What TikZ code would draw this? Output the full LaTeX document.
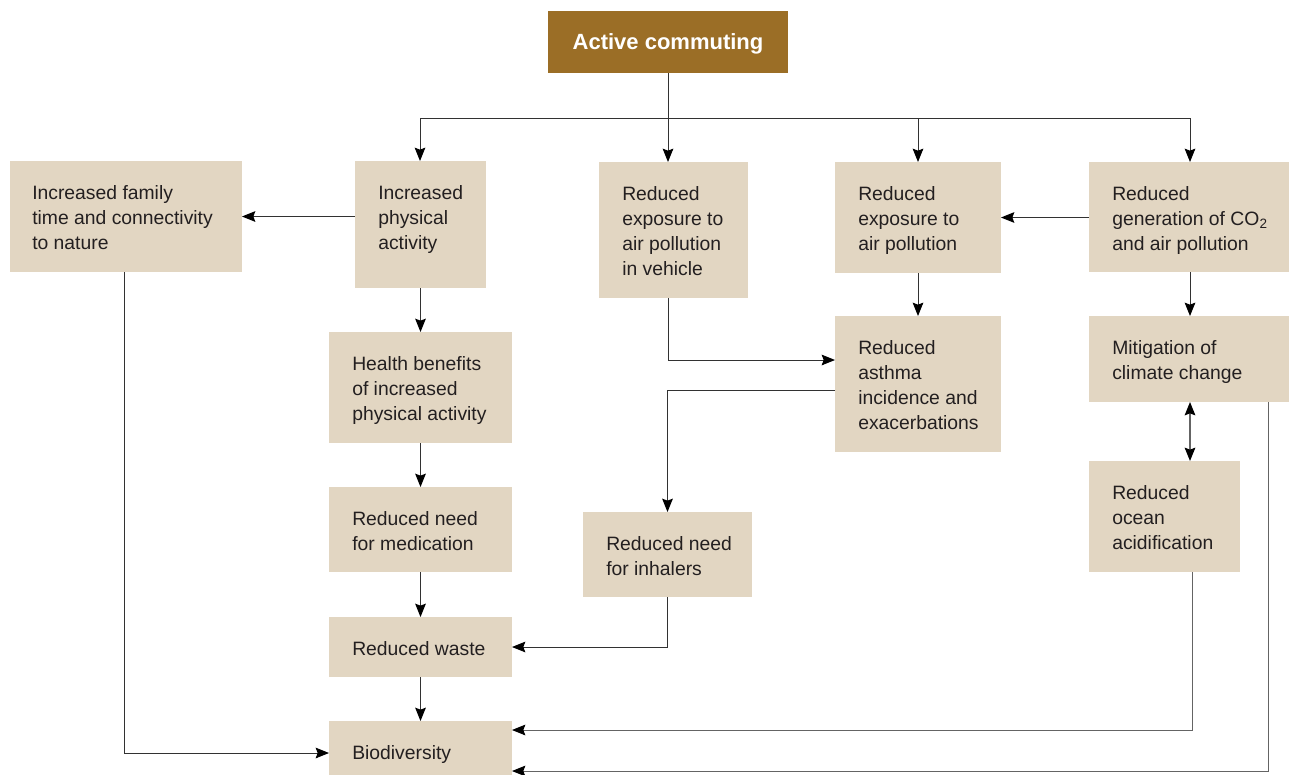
\documentclass[tikz,border=0pt]{standalone}
\usepackage{fontspec}
\setmainfont{Liberation Sans}
\usetikzlibrary{arrows.meta,fit,calc}
\definecolor{boxc}{RGB}{226,214,194}
\definecolor{brownc}{RGB}{155,110,38}
\definecolor{txtc}{RGB}{35,31,32}
\definecolor{linec}{RGB}{50,50,50}
\definecolor{greyc}{RGB}{100,100,100}
\begin{document}
\begin{tikzpicture}[x=0.75pt,y=-0.75pt,
  box/.style={fill=boxc, draw=none, inner sep=0pt, outer sep=0pt, rectangle},
  topbox/.style={fill=brownc, draw=none, inner sep=0pt, outer sep=0pt, rectangle},
  txt/.style={anchor=north west, inner sep=0pt, align=left, text=txtc,
    font=\fontsize{14.5}{18.75}\selectfont},
  tip/.style={Stealth[length=10pt,width=8pt,inset=1.5pt,fill=black,draw=black]},
  line/.style={line width=0.75pt, draw=linec},
  arr/.style={line, -{Stealth[length=10pt,width=8pt,inset=1.5pt,color=black]}},
  garr/.style={line width=0.75pt, draw=greyc, -{Stealth[length=10pt,width=8pt,inset=1.5pt,color=black]}},
  darr/.style={line width=1pt, draw=greyc, {Stealth[length=10pt,width=8pt,inset=1.5pt,color=black]}-{Stealth[length=10pt,width=8pt,inset=1.5pt,color=black]}}
]
\useasboundingbox (0,0) rectangle (1290,775);

% boxes
\node[topbox, fit={(548,11) (788,73)}] (ac) {};
\node[anchor=center, inner sep=0pt, text=white, font=\fontsize{16.5}{20}\selectfont\bfseries] (act) at ($(ac.center)+(0,2)$) {Active commuting};

\node[box, fit={(10,161) (242,272)}] (fam) {};
\node[box, fit={(355,161) (486,288)}] (ipa) {};
\node[box, fit={(599,162) (748,298)}] (veh) {};
\node[box, fit={(835,162) (1001,273)}] (exp) {};
\node[box, fit={(1089,162) (1289,272)}] (co2) {};
\node[box, fit={(329,332) (512,443)}] (hb) {};
\node[box, fit={(835,316) (1001,452)}] (ast) {};
\node[box, fit={(1089,316) (1289,402)}] (mit) {};
\node[box, fit={(329,487) (512,572)}] (med) {};
\node[box, fit={(583,512) (752,597)}] (inh) {};
\node[box, fit={(1089,461) (1240,572)}] (oce) {};
\node[box, fit={(329,617) (512,677)}] (was) {};
\node[box, fit={(329,721) (512,775)}] (bio) {};

% texts
\node[txt] (famt) at ($(fam.north west)+(22,24)$) {Increased family\\time and connectivity\\to nature};
\node[txt] (ipat) at ($(ipa.north west)+(23,24)$) {Increased\\physical\\activity};
\node[txt] (veht) at ($(veh.north west)+(23,24)$) {Reduced\\exposure to\\air pollution\\in vehicle};
\node[txt] (expt) at ($(exp.north west)+(23,24)$) {Reduced\\exposure to\\air pollution};
\node[txt] (co2t) at ($(co2.north west)+(23,24)$) {Reduced\\generation of CO\textsubscript{2}\\and air pollution};
\node[txt] (hbt) at ($(hb.north west)+(23,24)$) {Health benefits\\of increased\\physical activity};
\node[txt] (astt) at ($(ast.north west)+(23,24)$) {Reduced\\asthma\\incidence and\\exacerbations};
\node[txt] (mitt) at ($(mit.north west)+(23,24)$) {Mitigation of\\climate change};
\node[txt] (medt) at ($(med.north west)+(23,24)$) {Reduced need\\for medication};
\node[txt] (inht) at ($(inh.north west)+(23,24)$) {Reduced need\\for inhalers};
\node[txt] (ocet) at ($(oce.north west)+(23,24)$) {Reduced\\ocean\\acidification};
\node[txt] (wast) at ($(was.north west)+(23,24)$) {Reduced waste};
\node[txt] (biot) at ($(bio.north west)+(23,24)$) {Biodiversity};

% helper coordinates
\coordinate (bL) at (420,118);
\coordinate (bR) at (1190,118);
\coordinate (v1) at (668,360);
\coordinate (a1) at (835,390);
\coordinate (o1) at (1192,572);
\coordinate (m1) at (1268,402);
\coordinate (f1) at (124,272);
\coordinate (b1) at (512,730);
\coordinate (b2) at (512,771);
\coordinate (b3) at (329,753);

% connectors
\draw[line] (ac.south) -- (ac.south |- bL);
\draw[line] (bL) -- (bR);
\draw[arr] (bL) -- (bL |- ipa.north);
\draw[arr] (ac.south |- bL) -- (ac.south |- veh.north);
\draw[arr] (exp.north |- bL) -- (exp.north);
\draw[arr] (bR) -- (bR |- co2.north);

\draw[arr] (fam.east -| ipa.west) -- (fam.east);
\draw[arr] (ipa.south) -- (hb.north);
\draw[arr] (hb.south) -- (med.north);
\draw[arr] (med.south) -- (was.north);
\draw[arr] (was.south) -- (bio.north);

\draw[arr] (ac.south |- veh.south) -- (v1) -- (v1 -| ast.west);
\draw[arr] (ast.west |- a1) -| (inh.north);
\draw[arr] (inh.south) |- (was.east);

\draw[arr] (co2.west |- exp.east) -- (exp.east);
\draw[arr] (exp.south) -- (ast.north);
\draw[arr] (co2.south -| bR) -- (mit.north -| bR);
\draw[darr] (mit.south -| bR) -- (oce.north -| bR);

\draw[garr] (oce.south -| o1) |- (b1);
\draw[garr] (mit.south -| m1) |- (b2);
\draw[arr] (fam.south -| f1) |- (b3);
\end{tikzpicture}
\end{document}
